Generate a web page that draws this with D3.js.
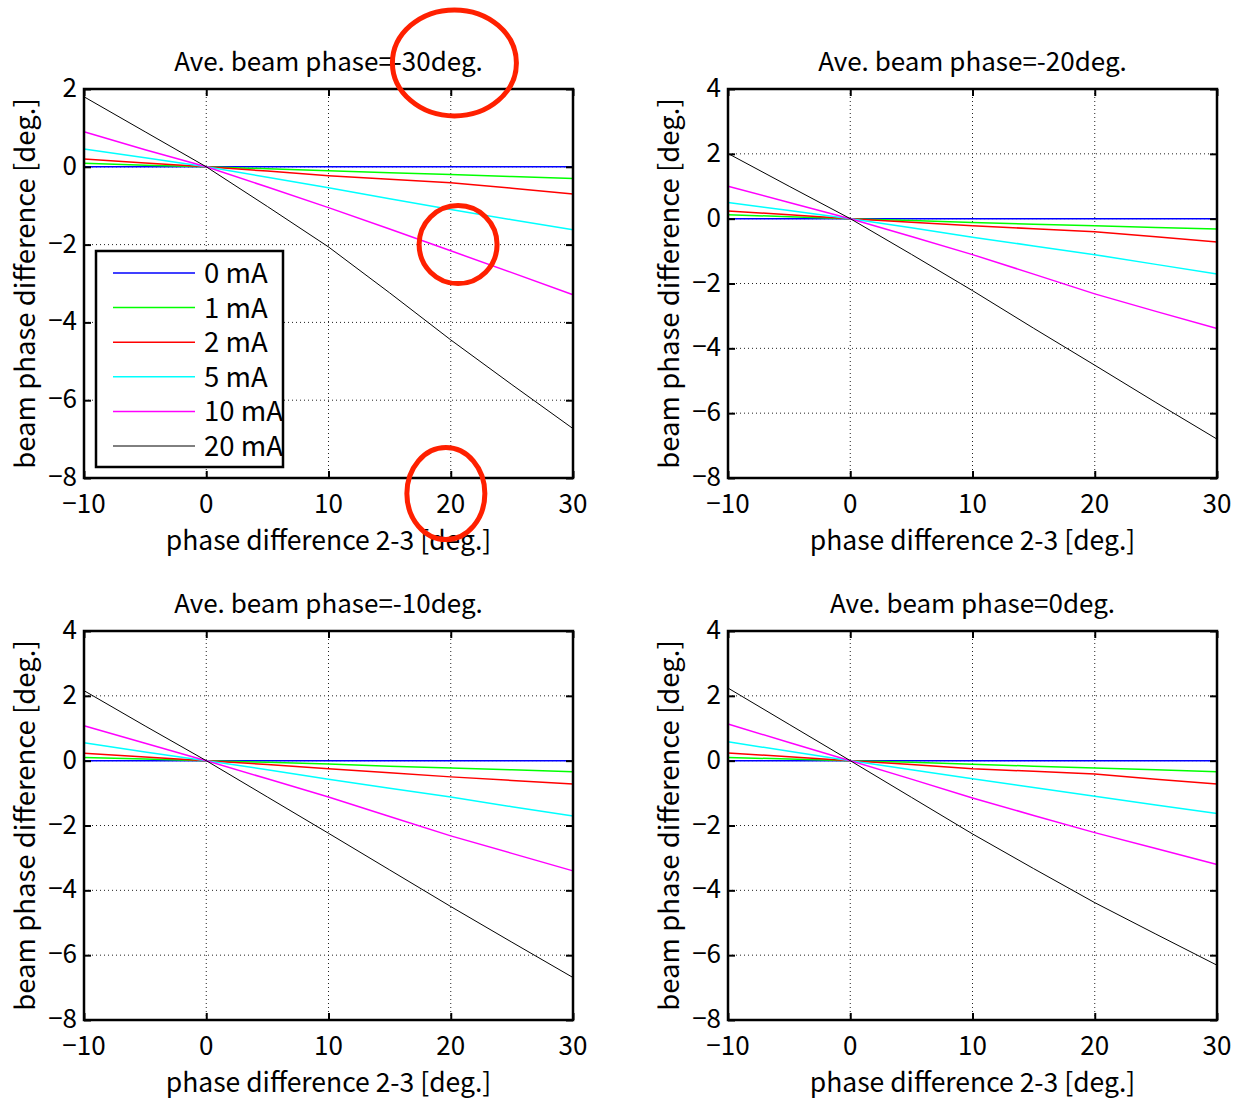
<!DOCTYPE html>
<html><head><meta charset="utf-8">
<script src="https://cdn.jsdelivr.net/npm/d3@7"></script>
<style>body{margin:0;background:#fff}</style>
</head><body>
<script>
// ---- data ----
const xValues = [-10, -5, 0, 5, 10, 15, 20, 25, 30];
const currentLabels = ["0 mA", "1 mA", "2 mA", "5 mA", "10 mA", "20 mA"];
const seriesColors = ["#0000ff", "#00ff00", "#ff0000", "#00ffff", "#ff00ff", "#000000"];
const panelTitles = ["Ave. beam phase=-30deg.", "Ave. beam phase=-20deg.", "Ave. beam phase=-10deg.", "Ave. beam phase=0deg."];
const xTicks = [-10, 0, 10, 20, 30];
const yTicksTopLeft = [-8, -6, -4, -2, 0, 2];
const yTicksOther = [-8, -6, -4, -2, 0, 2, 4];

const phaseM30 = [
  [0, 0, 0, 0, 0, 0, 0, 0, 0],
  [0.09, 0.04, 0, -0.05, -0.10, -0.15, -0.20, -0.25, -0.30],
  [0.20, 0.10, 0, -0.11, -0.23, -0.32, -0.41, -0.55, -0.70],
  [0.46, 0.23, 0, -0.27, -0.54, -0.82, -1.10, -1.36, -1.62],
  [0.90, 0.44, 0, -0.52, -1.05, -1.60, -2.16, -2.72, -3.29],
  [1.80, 0.90, 0, -1.02, -2.06, -3.24, -4.45, -5.60, -6.73]
];
const phaseM20 = [
  [0, 0, 0, 0, 0, 0, 0, 0, 0],
  [0.12, 0.06, 0, -0.06, -0.12, -0.17, -0.22, -0.27, -0.32],
  [0.24, 0.12, 0, -0.11, -0.22, -0.31, -0.40, -0.56, -0.72],
  [0.50, 0.25, 0, -0.28, -0.57, -0.84, -1.11, -1.41, -1.71],
  [1.00, 0.50, 0, -0.55, -1.11, -1.71, -2.32, -2.86, -3.39],
  [2.01, 1.00, 0, -1.10, -2.22, -3.38, -4.52, -5.67, -6.80]
];
const phaseM10 = [
  [0, 0, 0, 0, 0, 0, 0, 0, 0],
  [0.10, 0.05, 0, -0.05, -0.10, -0.17, -0.23, -0.28, -0.34],
  [0.23, 0.11, 0, -0.12, -0.25, -0.37, -0.50, -0.61, -0.72],
  [0.55, 0.27, 0, -0.28, -0.57, -0.85, -1.12, -1.42, -1.71],
  [1.08, 0.54, 0, -0.56, -1.12, -1.72, -2.32, -2.86, -3.40],
  [2.16, 1.07, 0, -1.12, -2.24, -3.37, -4.50, -5.60, -6.69]
];
const phase0 = [
  [0, 0, 0, 0, 0, 0, 0, 0, 0],
  [0.10, 0.05, 0, -0.05, -0.11, -0.17, -0.23, -0.28, -0.34],
  [0.24, 0.12, 0, -0.12, -0.25, -0.33, -0.41, -0.57, -0.72],
  [0.58, 0.29, 0, -0.28, -0.56, -0.83, -1.10, -1.37, -1.63],
  [1.13, 0.56, 0, -0.57, -1.15, -1.69, -2.22, -2.71, -3.20],
  [2.24, 1.12, 0, -1.13, -2.26, -3.33, -4.38, -5.35, -6.31]
];
// annotation ellipses on the first panel (data coordinates, radii in px)
const annotations = [
  {x: 20.3, y: 2.67, rx: 62, ry: 53},
  {x: 20.6, y: -2.0, rx: 39, ry: 39},
  {x: 19.6, y: -8.4, rx: 39, ry: 46}
];

const panelData = [phaseM30, phaseM20, phaseM10, phase0];
const yDomains = [[-8, 2], [-8, 4], [-8, 4], [-8, 4]];
const yTickSets = [yTicksTopLeft, yTicksOther, yTicksOther, yTicksOther];

// ---- layout ----
const W = 1234, H = 1100;
const FONT = "'Noto Sans CJK JP', 'DejaVu Sans', sans-serif";
const pw = 489, ph = 389;
const origins = [[84, 89], [728, 89], [84, 631], [728, 631]];

const svg = d3.select("body").append("svg").attr("width", W).attr("height", H)
  .style("font-family", FONT);

const fmt = d => d < 0 ? "\u2212" + Math.abs(d) : String(d);

panelData.forEach((series, pi) => {
  const [ox, oy] = origins[pi];
  const g = svg.append("g").attr("transform", `translate(${ox},${oy})`);
  const x = d3.scaleLinear().domain([-10, 30]).range([0, pw]);
  const y = d3.scaleLinear().domain(yDomains[pi]).range([ph, 0]);

  // grid
  g.append("g").selectAll("line").data(xTicks.slice(1, -1)).join("line")
    .attr("x1", d => x(d)).attr("x2", d => x(d)).attr("y1", 0).attr("y2", ph)
    .attr("stroke", "#222").attr("stroke-width", 1).attr("stroke-dasharray", "1,3");
  g.append("g").selectAll("line").data(yTickSets[pi].slice(1, -1)).join("line")
    .attr("y1", d => y(d)).attr("y2", d => y(d)).attr("x1", 0).attr("x2", pw)
    .attr("stroke", "#222").attr("stroke-width", 1).attr("stroke-dasharray", "1,3");

  // lines
  const line = d3.line().x((d, i) => x(xValues[i])).y(d => y(d));
  series.forEach((vals, si) => {
    g.append("path").datum(vals).attr("d", line).attr("fill", "none")
      .attr("stroke", seriesColors[si]).attr("stroke-width", si === 5 ? 1 : 1.5);
  });

  // axes (inside ticks, all four sides)
  const axB = d3.axisBottom(x).tickValues(xTicks).tickSize(-7).tickFormat("");
  const axT = d3.axisTop(x).tickValues(xTicks).tickSize(-7).tickFormat("");
  const axL = d3.axisLeft(y).tickValues(yTickSets[pi]).tickSize(-7).tickFormat("");
  const axR = d3.axisRight(y).tickValues(yTickSets[pi]).tickSize(-7).tickFormat("");
  [[axB, `translate(0,${ph})`], [axT, "translate(0,0)"], [axL, "translate(0,0)"], [axR, `translate(${pw},0)`]]
    .forEach(([ax, tr]) => {
      const a = g.append("g").attr("transform", tr).call(ax);
      a.select(".domain").remove();
      a.selectAll(".tick line").attr("stroke", "#000").attr("stroke-width", 2);
    });
  g.append("rect").attr("x", 0).attr("y", 0).attr("width", pw).attr("height", ph)
    .attr("fill", "none").attr("stroke", "#000").attr("stroke-width", 2.5);

  // tick labels
  g.append("g").selectAll("text").data(xTicks).join("text")
    .attr("x", d => x(d)).attr("y", ph + 35).attr("text-anchor", "middle")
    .attr("font-size", 26).text(fmt);
  g.append("g").selectAll("text").data(yTickSets[pi]).join("text")
    .attr("x", -7).attr("y", d => y(d) + 8).attr("text-anchor", "end")
    .attr("font-size", 26).text(fmt);

  // titles
  g.append("text").attr("x", pw / 2).attr("y", -18).attr("text-anchor", "middle")
    .attr("font-size", 26).text(panelTitles[pi]);
  g.append("text").attr("x", pw / 2).attr("y", ph + 72).attr("text-anchor", "middle")
    .attr("font-size", 26.5).text("phase difference 2-3 [deg.]");
  g.append("text").attr("transform", `translate(${-49},${ph / 2}) rotate(-90)`)
    .attr("text-anchor", "middle").attr("font-size", 27.5).text("beam phase difference [deg.]");

  if (pi === 0) {
    // legend
    const lg = g.append("g").attr("transform", `translate(12,162)`);
    lg.append("rect").attr("width", 187).attr("height", 216).attr("fill", "#fff")
      .attr("stroke", "#000").attr("stroke-width", 2.5);
    currentLabels.forEach((lab, i) => {
      const yy = 22 + i * 34.6;
      lg.append("line").attr("x1", 17).attr("x2", 99).attr("y1", yy).attr("y2", yy)
        .attr("stroke", seriesColors[i]).attr("stroke-width", i === 5 ? 1 : 1.5);
      lg.append("text").attr("x", 108).attr("y", yy + 10).attr("font-size", 27.5).text(lab);
    });
    // annotations
    g.append("g").selectAll("ellipse").data(annotations).join("ellipse")
      .attr("cx", d => x(d.x)).attr("cy", d => y(d.y)).attr("rx", d => d.rx).attr("ry", d => d.ry)
      .attr("fill", "none").attr("stroke", "#ff2000").attr("stroke-width", 5);
  }
});
</script>
</body></html>
